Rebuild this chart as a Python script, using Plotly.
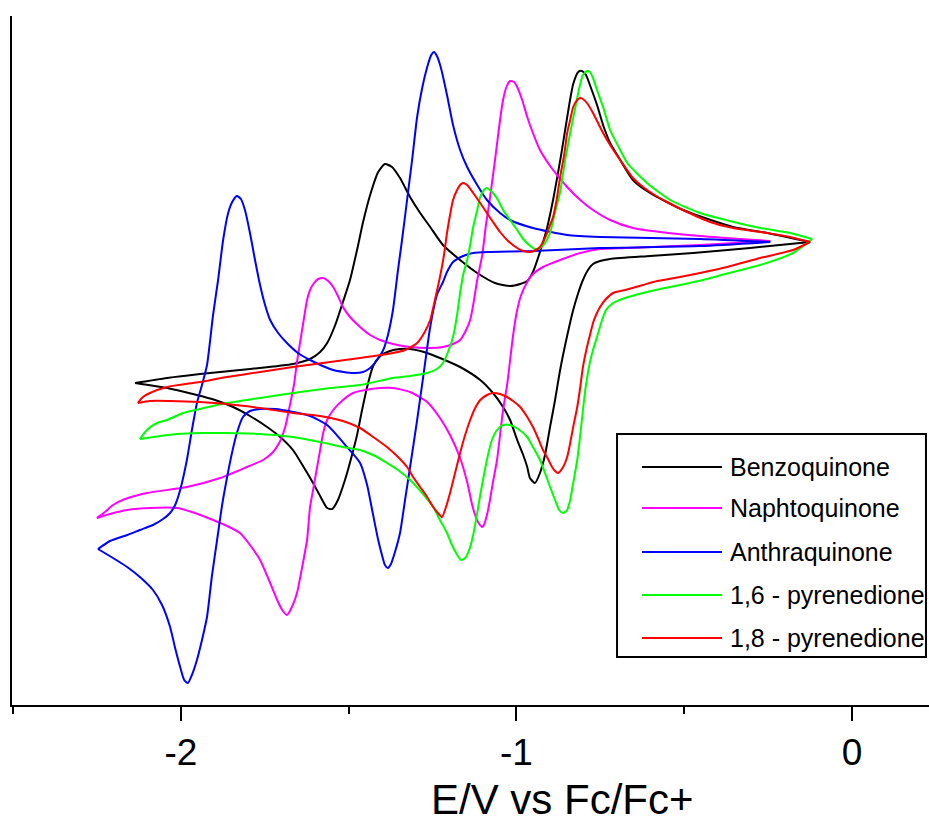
import plotly.graph_objects as go

# Cyclic voltammograms of five quinones (potential in V vs Fc/Fc+, current in µA).
# Each scan is split into the cathodic sweep (from the start potential towards negative
# values) and the return sweep.

names = ["Benzoquinone", "Naphtoquinone", "Anthraquinone", "1,6 - pyrenedione", "1,8 - pyrenedione"]
colors = ["#000000", "#ff00ff", "#0000ff", "#00ff00", "#ff0000"]

# --- Benzoquinone ---
bq_E_fwd = [-0.125, -0.304, -0.474, -0.602, -0.721, -0.751, -0.772, -0.787, -0.802, -0.816, -0.831, -0.855,
            -0.870, -0.885, -0.900, -0.915, -0.930, -0.945, -0.960, -0.968, -0.980, -0.998, -1.019, -1.040,
            -1.070, -1.108, -1.168, -1.228, -1.266, -1.317, -1.347, -1.377, -1.406, -1.427, -1.445, -1.460,
            -1.475, -1.490, -1.511, -1.532, -1.549, -1.564, -1.585, -1.606, -1.636, -1.666, -1.704, -1.743,
            -1.794, -1.844, -1.898, -1.952, -2.041, -2.136]
bq_I_fwd = [0.0, -0.6, -1.1, -1.4, -1.7, -1.9, -2.2, -2.8, -3.8, -5.1, -6.8, -10.3,
            -12.8, -15.8, -18.5, -21.3, -23.1, -24.1, -23.6, -22.5, -21.3, -19.8, -17.8, -16.5,
            -15.1, -13.8, -12.5, -11.6, -11.1, -10.7, -10.7, -10.9, -11.4, -12.4, -14.5, -16.8,
            -19.3, -21.3, -23.8, -25.8, -26.7, -26.6, -25.4, -24.1, -22.4, -20.8, -19.5, -18.5,
            -17.4, -16.5, -15.8, -15.3, -14.6, -14.1]
bq_E_rev = [-2.136, -2.041, -1.943, -1.794, -1.666, -1.615, -1.585, -1.564, -1.540, -1.517, -1.496, -1.475,
            -1.457, -1.436, -1.412, -1.392, -1.371, -1.347, -1.317, -1.287, -1.257, -1.219, -1.168, -1.117,
            -1.064, -1.019, -0.989, -0.968, -0.951, -0.930, -0.909, -0.891, -0.879, -0.867, -0.855, -0.843,
            -0.831, -0.816, -0.805, -0.793, -0.778, -0.760, -0.742, -0.721, -0.691, -0.653, -0.602, -0.504,
            -0.355, -0.253, -0.125]
bq_I_rev = [-14.1, -13.6, -13.2, -12.7, -12.2, -11.7, -11.0, -10.1, -8.3, -6.0, -3.8, -0.8,
            2.0, 4.7, 7.0, 7.8, 7.5, 6.4, 4.5, 2.9, 1.5, -0.3, -1.8, -3.1,
            -4.1, -4.4, -4.2, -3.9, -3.0, -1.0, 1.4, 4.2, 6.4, 8.7, 11.2, 13.7,
            15.8, 17.0, 17.1, 16.7, 15.4, 13.7, 11.7, 9.9, 8.2, 6.2, 4.9, 3.2,
            1.5, 0.9, 0.0]

# --- Naphtoquinone ---
nq_E_fwd = [-0.244, -0.453, -0.670, -0.751, -0.810, -0.870, -0.921, -0.951, -0.968, -0.986, -0.998, -1.010,
            -1.019, -1.028, -1.040, -1.049, -1.058, -1.070, -1.079, -1.088, -1.097, -1.102, -1.111, -1.120,
            -1.132, -1.147, -1.168, -1.198, -1.228, -1.266, -1.317, -1.368, -1.406, -1.451, -1.487, -1.517,
            -1.546, -1.564, -1.576, -1.585, -1.594, -1.606, -1.615, -1.624, -1.639, -1.654, -1.669, -1.684,
            -1.698, -1.713, -1.740, -1.764, -1.794, -1.824, -1.862, -1.904, -1.958, -2.011, -2.092, -2.160,
            -2.211, -2.250]
nq_I_fwd = [0.1, -0.3, -0.6, -0.7, -1.1, -1.8, -2.5, -3.2, -4.0, -5.3, -6.8, -9.3,
            -11.8, -14.3, -16.8, -19.3, -21.8, -24.0, -25.8, -27.3, -28.3, -28.5, -28.2, -27.6,
            -26.3, -24.0, -21.6, -19.3, -17.6, -16.0, -15.0, -14.6, -14.6, -14.8, -15.1, -15.8,
            -16.8, -17.8, -19.1, -20.8, -22.5, -24.8, -26.5, -29.8, -32.6, -35.1, -36.5, -37.3,
            -36.8, -35.8, -33.6, -31.8, -30.3, -29.1, -28.4, -27.8, -27.1, -26.6, -26.6, -26.8,
            -27.2, -27.6]
nq_E_rev = [-2.250, -2.226, -2.202, -2.166, -2.101, -1.982, -1.883, -1.803, -1.755, -1.728, -1.707, -1.689,
            -1.675, -1.663, -1.654, -1.645, -1.633, -1.624, -1.615, -1.603, -1.591, -1.576, -1.561, -1.546,
            -1.532, -1.517, -1.496, -1.466, -1.436, -1.406, -1.368, -1.317, -1.257, -1.219, -1.189, -1.168,
            -1.153, -1.138, -1.129, -1.117, -1.102, -1.091, -1.079, -1.064, -1.049, -1.040, -1.031, -1.019,
            -1.007, -0.998, -0.983, -0.968, -0.951, -0.930, -0.891, -0.849, -0.810, -0.772, -0.721, -0.653,
            -0.572, -0.453, -0.244]
nq_I_rev = [-27.6, -27.0, -26.3, -25.7, -25.1, -24.5, -23.6, -22.5, -21.8, -21.1, -20.1, -18.5,
            -16.3, -14.3, -12.0, -10.1, -7.6, -5.8, -4.8, -4.1, -3.7, -3.6, -3.9, -4.5,
            -5.4, -6.5, -7.5, -8.5, -9.3, -9.8, -10.2, -10.5, -10.6, -10.5, -10.2, -9.8,
            -9.0, -7.8, -6.3, -3.8, -1.3, 1.7, 4.4, 8.2, 12.2, 14.2, 15.4, 16.1,
            16.0, 15.5, 14.2, 12.5, 10.9, 9.2, 7.2, 5.5, 4.2, 3.2, 2.2, 1.4,
            1.0, 0.6, 0.1]

# --- Anthraquinone ---
aq_E_fwd = [-0.244, -0.453, -0.751, -0.951, -1.079, -1.129, -1.159, -1.189, -1.207, -1.219, -1.237, -1.257,
            -1.278, -1.296, -1.317, -1.332, -1.347, -1.362, -1.374, -1.383, -1.392, -1.400, -1.412, -1.430,
            -1.445, -1.466, -1.505, -1.564, -1.615, -1.666, -1.719, -1.764, -1.794, -1.815, -1.833, -1.847,
            -1.862, -1.877, -1.892, -1.907, -1.922, -1.937, -1.952, -1.967, -1.979, -1.990, -2.002, -2.017,
            -2.032, -2.056, -2.083, -2.122, -2.160, -2.202, -2.247]
aq_I_fwd = [0.0, -0.4, -0.6, -0.9, -1.0, -1.1, -1.4, -2.0, -3.0, -4.0, -5.3, -8.5,
            -13.5, -17.8, -22.5, -25.8, -29.1, -31.0, -32.2, -32.6, -32.3, -31.4, -29.8, -26.8,
            -24.3, -22.1, -20.5, -18.3, -17.4, -17.0, -16.7, -16.7, -16.9, -17.5, -19.1, -21.0,
            -23.5, -26.3, -29.8, -33.3, -37.5, -39.8, -41.8, -43.3, -44.1, -43.8, -42.5, -40.6,
            -38.5, -36.3, -34.8, -33.5, -32.5, -31.6, -30.7]
aq_E_rev = [-2.247, -2.211, -2.160, -2.122, -2.083, -2.053, -2.032, -2.017, -2.002, -1.982, -1.967, -1.952,
            -1.937, -1.922, -1.904, -1.889, -1.874, -1.859, -1.847, -1.833, -1.821, -1.809, -1.794, -1.779,
            -1.764, -1.749, -1.734, -1.710, -1.684, -1.651, -1.615, -1.546, -1.487, -1.457, -1.436, -1.415,
            -1.397, -1.383, -1.368, -1.353, -1.341, -1.326, -1.311, -1.296, -1.281, -1.266, -1.254, -1.246,
            -1.237, -1.225, -1.207, -1.189, -1.168, -1.147, -1.117, -1.088, -1.049, -1.019, -0.951, -0.849,
            -0.751, -0.453, -0.244]
aq_I_rev = [-30.7, -29.9, -29.3, -28.8, -28.3, -27.7, -27.1, -26.3, -24.8, -21.8, -18.8, -16.1,
            -14.3, -12.3, -7.3, -3.8, 0.2, 2.9, 4.0, 4.6, 4.3, 3.2, 0.9, -1.8,
            -4.3, -6.3, -7.8, -9.1, -10.1, -11.1, -11.8, -12.8, -13.1, -13.0, -12.6, -11.8,
            -10.8, -9.3, -6.8, -2.8, 0.2, 4.2, 8.2, 12.5, 15.4, 17.5, 18.7, 19.0,
            18.6, 17.4, 14.7, 11.7, 9.2, 7.5, 5.7, 4.2, 2.9, 2.2, 1.4, 0.7,
            0.5, 0.3, 0.0]

# --- 1,6-pyrenedione ---
p16_E_fwd = [-0.119, -0.176, -0.274, -0.355, -0.444, -0.513, -0.572, -0.623, -0.676, -0.712, -0.733, -0.745,
             -0.760, -0.772, -0.781, -0.793, -0.802, -0.810, -0.819, -0.831, -0.840, -0.849, -0.861, -0.873,
             -0.885, -0.900, -0.915, -0.930, -0.951, -0.968, -0.995, -1.019, -1.040, -1.058, -1.073, -1.085,
             -1.097, -1.108, -1.117, -1.129, -1.141, -1.153, -1.165, -1.180, -1.195, -1.207, -1.228, -1.248,
             -1.281, -1.317, -1.353, -1.386, -1.421, -1.466, -1.517, -1.585, -1.666, -1.764, -1.862, -1.943,
             -2.011, -2.062, -2.122]
p16_I_fwd = [0.3, -1.1, -2.3, -3.0, -3.8, -4.3, -4.7, -5.1, -5.6, -6.1, -6.8, -7.8,
             -9.5, -10.8, -12.0, -14.3, -16.8, -19.3, -21.8, -24.1, -25.8, -26.8, -27.1, -26.8,
             -25.8, -24.5, -23.1, -21.8, -20.5, -19.5, -18.7, -18.3, -18.3, -18.8, -19.8, -21.3,
             -23.3, -25.3, -27.1, -29.3, -30.8, -31.6, -31.8, -31.1, -30.1, -29.1, -27.8, -26.5,
             -25.1, -23.8, -22.8, -22.1, -21.4, -20.8, -20.5, -20.0, -19.5, -19.2, -19.1, -19.1,
             -19.2, -19.4, -19.7]
p16_E_rev = [-2.122, -2.101, -2.071, -2.041, -1.993, -1.943, -1.862, -1.764, -1.666, -1.555, -1.466, -1.368,
             -1.317, -1.266, -1.237, -1.219, -1.204, -1.189, -1.177, -1.168, -1.159, -1.147, -1.138, -1.129,
             -1.117, -1.108, -1.097, -1.088, -1.079, -1.070, -1.055, -1.040, -1.019, -0.998, -0.980, -0.959,
             -0.945, -0.930, -0.915, -0.900, -0.885, -0.870, -0.855, -0.840, -0.825, -0.813, -0.802, -0.790,
             -0.781, -0.772, -0.760, -0.742, -0.721, -0.691, -0.670, -0.611, -0.542, -0.453, -0.364, -0.274,
             -0.185, -0.119]
p16_I_rev = [-19.7, -18.8, -18.1, -17.8, -17.1, -16.7, -16.1, -15.6, -15.1, -14.6, -14.3, -13.6,
             -13.4, -13.1, -12.7, -12.1, -11.0, -9.5, -7.3, -5.1, -3.3, -1.8, -0.3, 1.5,
             3.2, 4.5, 5.2, 5.4, 5.2, 4.9, 4.2, 3.2, 2.2, 1.2, 0.3, -0.4,
             -0.7, -0.6, -0.1, 0.9, 3.0, 5.0, 8.2, 10.9, 13.4, 15.4, 16.7, 17.1,
             17.0, 16.4, 15.2, 13.5, 11.2, 9.2, 7.9, 5.9, 4.2, 2.9, 2.1, 1.4,
             0.9, 0.3]

# --- 1,8-pyrenedione ---
p18_E_fwd = [-0.125, -0.176, -0.274, -0.372, -0.453, -0.513, -0.581, -0.623, -0.676, -0.712, -0.736, -0.751,
             -0.763, -0.772, -0.781, -0.790, -0.802, -0.810, -0.819, -0.831, -0.840, -0.849, -0.861, -0.876,
             -0.885, -0.894, -0.906, -0.921, -0.936, -0.951, -0.968, -0.989, -1.010, -1.028, -1.049, -1.070,
             -1.088, -1.108, -1.123, -1.138, -1.153, -1.168, -1.183, -1.198, -1.210, -1.222, -1.234, -1.248,
             -1.266, -1.287, -1.308, -1.326, -1.356, -1.386, -1.427, -1.466, -1.517, -1.585, -1.666, -1.764,
             -1.862, -1.943, -2.032, -2.092, -2.128]
p18_I_fwd = [0.0, -0.8, -1.6, -2.5, -3.1, -3.5, -3.9, -4.3, -4.8, -5.1, -5.8, -6.5,
             -7.3, -8.1, -9.3, -10.5, -12.5, -14.5, -16.5, -18.5, -20.1, -21.5, -22.5, -23.1,
             -22.9, -22.5, -21.7, -20.8, -19.6, -18.5, -17.5, -16.5, -15.9, -15.5, -15.2, -15.1,
             -15.3, -15.8, -16.6, -17.8, -19.3, -21.1, -23.1, -25.1, -26.5, -27.5, -27.1, -26.5,
             -25.5, -24.5, -23.5, -22.5, -21.4, -20.5, -19.5, -18.6, -17.9, -17.4, -17.1, -16.6,
             -16.2, -16.0, -15.9, -15.9, -16.1]
p18_E_rev = [-2.128, -2.113, -2.092, -2.041, -1.943, -1.862, -1.764, -1.666, -1.555, -1.466, -1.368, -1.332,
             -1.296, -1.275, -1.257, -1.243, -1.228, -1.216, -1.207, -1.198, -1.189, -1.177, -1.168, -1.159,
             -1.147, -1.129, -1.108, -1.088, -1.070, -1.049, -1.025, -0.998, -0.980, -0.959, -0.942, -0.930,
             -0.915, -0.900, -0.891, -0.879, -0.870, -0.858, -0.849, -0.840, -0.831, -0.819, -0.810, -0.802,
             -0.790, -0.772, -0.742, -0.721, -0.691, -0.653, -0.623, -0.593, -0.551, -0.504, -0.423, -0.355,
             -0.274, -0.185, -0.125]
p18_I_rev = [-16.1, -15.5, -15.1, -14.5, -14.0, -13.5, -13.0, -12.5, -12.0, -11.6, -11.1, -10.8,
             -10.1, -9.1, -7.8, -5.8, -3.5, -1.3, 0.9, 2.7, 4.2, 5.2, 5.7, 5.9,
             5.7, 4.9, 3.9, 2.9, 2.0, 1.0, 0.1, -0.6, -0.9, -1.0, -0.8, -0.5,
             0.4, 1.7, 2.5, 4.5, 6.5, 8.7, 10.9, 12.2, 13.5, 14.2, 14.4, 14.3,
             13.9, 12.9, 10.9, 9.7, 8.2, 6.4, 5.5, 4.8, 4.0, 3.2, 2.0, 1.4,
             1.0, 0.5, 0.0]

sweeps = [
    (bq_E_fwd, bq_I_fwd, bq_E_rev, bq_I_rev),
    (nq_E_fwd, nq_I_fwd, nq_E_rev, nq_I_rev),
    (aq_E_fwd, aq_I_fwd, aq_E_rev, aq_I_rev),
    (p16_E_fwd, p16_I_fwd, p16_E_rev, p16_I_rev),
    (p18_E_fwd, p18_I_fwd, p18_E_rev, p18_I_rev),
]

FONT = "Liberation Sans, Arial, Helvetica, sans-serif"

fig = go.Figure()
for name, color, (e_f, i_f, e_r, i_r) in zip(names, colors, sweeps):
    for e, i in ((e_f, i_f), (e_r, i_r)):
        fig.add_trace(go.Scatter(
            x=e, y=i, mode="lines", name=name, legendgroup=name, showlegend=False,
            line=dict(color=color, width=2, shape="spline", smoothing=0.6),
            hoverinfo="skip",
        ))

# Legend drawn as a framed box with one sample line per compound
box_x0, box_x1 = 0.6598, 0.9967
box_y0, box_y1 = 0.0697, 0.3933
row_y = [0.3454, 0.2859, 0.2221, 0.1597, 0.0972]
shapes = [dict(type="rect", xref="paper", yref="paper", x0=box_x0, x1=box_x1, y0=box_y0, y1=box_y1,
               line=dict(color="black", width=2), fillcolor="white", layer="above")]
annotations = []
for name, color, ry in zip(names, colors, row_y):
    shapes.append(dict(type="line", xref="paper", yref="paper", x0=0.6870, x1=0.7743, y0=ry, y1=ry,
                       line=dict(color=color, width=2), layer="above"))
    annotations.append(dict(xref="paper", yref="paper", x=0.7808, y=ry, text=name, showarrow=False,
                            xanchor="left", yanchor="middle", font=dict(family=FONT, size=25, color="black")))

# Axis title
annotations.append(dict(xref="paper", yref="paper", x=0.600, y=-0.1365, text="E/V vs Fc/Fc+", showarrow=False,
                        xanchor="center", yanchor="middle", font=dict(family=FONT, size=42, color="black")))

fig.update_layout(
    width=929, height=823,
    margin=dict(l=12, r=0, t=16, b=118),
    paper_bgcolor="white", plot_bgcolor="white",
    showlegend=False,
    shapes=shapes, annotations=annotations,
    xaxis=dict(
        range=[-2.503, 0.229], showgrid=False, zeroline=False,
        showline=True, linecolor="black", linewidth=2,
        ticks="outside", ticklen=14, tickwidth=2, tickcolor="black",
        tickvals=[-2, -1, 0], ticktext=["-2", "-1", "0"],
        tickfont=dict(family=FONT, size=37, color="black"),
        minor=dict(dtick=0.5, tick0=0, ticks="outside", ticklen=7, tickwidth=2, tickcolor="black", showgrid=False),
    ),
    yaxis=dict(
        range=[-46.3, 22.6], showgrid=False, zeroline=False,
        showline=True, linecolor="black", linewidth=2,
        ticks="", showticklabels=False,
    ),
)

fig.write_html("out.html")
